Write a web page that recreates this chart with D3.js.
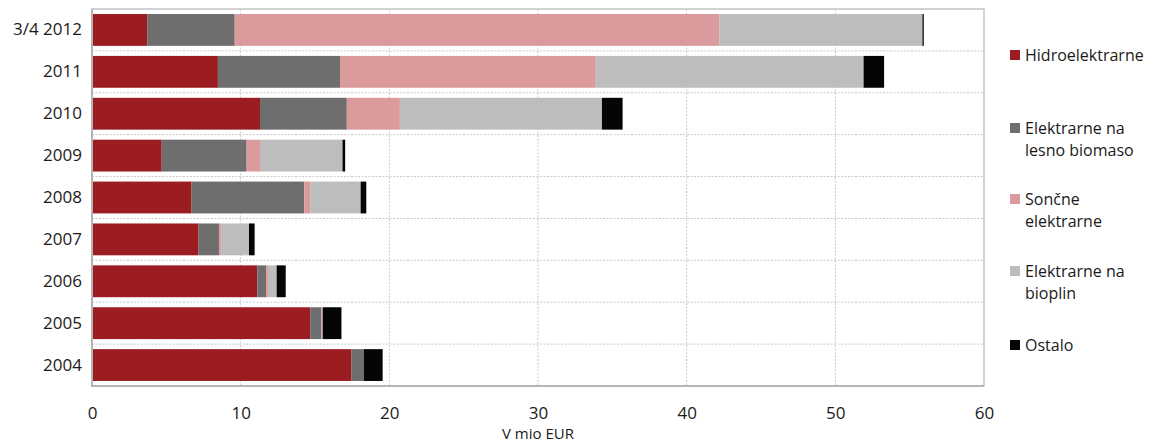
<!DOCTYPE html>
<html>
<head>
<meta charset="utf-8">
<script src="https://cdn.jsdelivr.net/npm/d3@7"></script>
<style>
  html, body { margin: 0; padding: 0; background: #fff; }
  svg { display: block; font-family: "Open Sans", "Noto Sans", sans-serif; }
</style>
</head>
<body>
<svg id="chart" width="1157" height="445"></svg>
<script>
const categories = ["3/4 2012", "2011", "2010", "2009", "2008", "2007", "2006", "2005", "2004"];
const seriesNames = ["Hidroelektrarne", "Elektrarne na lesno biomaso", "Sončne elektrarne", "Elektrarne na bioplin", "Ostalo"];
const legendLines = [["Hidroelektrarne"], ["Elektrarne na", "lesno biomaso"], ["Sončne", "elektrarne"], ["Elektrarne na", "bioplin"], ["Ostalo"]];
const hidro   = [3.71, 8.47, 11.30, 4.69, 6.70, 7.17, 11.12, 14.68, 17.46];
const biomasa = [5.89, 8.21, 5.84, 5.71, 7.58, 1.37, 0.60, 0.74, 0.83];
const soncne  = [32.59, 17.21, 3.57, 0.90, 0.40, 0.13, 0.12, 0.05, 0.00];
const bioplin = [13.67, 18.01, 13.59, 5.55, 3.39, 1.89, 0.58, 0.05, 0.00];
const ostalo  = [0.09, 1.38, 1.39, 0.18, 0.38, 0.38, 0.61, 1.26, 1.26];
const xTicks = [0, 10, 20, 30, 40, 50, 60];
const xTitle = "V mio EUR";
const colors = ["#9b1c21", "#6d6e6d", "#db9a9b", "#bdbdbd", "#050505"];

const seriesValues = [hidro, biomasa, soncne, bioplin, ostalo];
const keys = seriesNames;
const rows = categories.map((c, i) => {
  const r = { cat: c };
  keys.forEach((k, j) => r[k] = seriesValues[j][i]);
  return r;
});

const svg = d3.select("#chart");
const plot = { left: 92, right: 984, top: 9, bottom: 386 };

const x = d3.scaleLinear().domain([0, 60]).range([plot.left, plot.right]);
const y = d3.scaleBand().domain(categories).range([plot.top, plot.bottom])
  .paddingInner(0.24).paddingOuter(0.12);
const color = d3.scaleOrdinal().domain(keys).range(colors);

// frame
svg.append("rect")
  .attr("x", plot.left).attr("y", plot.top)
  .attr("width", plot.right - plot.left).attr("height", plot.bottom - plot.top)
  .attr("fill", "#fff").attr("stroke", "#c4c4c4").attr("stroke-width", 1.5);

// vertical grid
svg.append("g").selectAll("line")
  .data(xTicks.filter(t => t > 0 && t < 60))
  .join("line")
  .attr("x1", d => x(d)).attr("x2", d => x(d))
  .attr("y1", plot.top).attr("y2", plot.bottom)
  .attr("stroke", "#c8c8c8").attr("stroke-width", 1)
  .attr("stroke-dasharray", "2,1.5");

// horizontal grid at band boundaries
const step = y.step();
const boundaries = categories.slice(1).map(c => y(c) - y.paddingInner() * step / 2);
svg.append("g").selectAll("line")
  .data(boundaries)
  .join("line")
  .attr("x1", plot.left).attr("x2", plot.right)
  .attr("y1", d => d).attr("y2", d => d)
  .attr("stroke", "#c8c8c8").attr("stroke-width", 1)
  .attr("stroke-dasharray", "2,1.5");

// bars
const stacked = d3.stack().keys(keys)(rows);
svg.append("g").selectAll("g")
  .data(stacked)
  .join("g")
  .attr("fill", d => color(d.key))
  .selectAll("rect")
  .data(d => d)
  .join("rect")
  .attr("x", d => x(d[0]))
  .attr("width", d => Math.max(0, x(d[1]) - x(d[0])))
  .attr("y", d => y(d.data.cat))
  .attr("height", y.bandwidth());

// left & bottom axis lines
svg.append("line")
  .attr("x1", plot.left).attr("x2", plot.left)
  .attr("y1", plot.top).attr("y2", plot.bottom + 1)
  .attr("stroke", "#b4b4b4").attr("stroke-width", 2);
svg.append("line")
  .attr("x1", plot.left).attr("x2", plot.right)
  .attr("y1", plot.bottom).attr("y2", plot.bottom)
  .attr("stroke", "#b4b4b4").attr("stroke-width", 2);

// x axis labels
const xAxis = d3.axisBottom(x).tickValues(xTicks).tickSize(0).tickPadding(0);
const gx = svg.append("g").attr("transform", `translate(0,${plot.bottom + 33})`).call(xAxis);
gx.select(".domain").remove();
gx.selectAll("text").attr("font-size", 17).attr("fill", "#1a1a1a")
  .attr("font-family", "'Open Sans', sans-serif").attr("dy", "0");

svg.append("text")
  .attr("x", (plot.left + plot.right) / 2).attr("y", 439)
  .attr("text-anchor", "middle").attr("font-size", 15).attr("fill", "#1a1a1a")
  .text(xTitle);

// y axis labels
const yAxis = d3.axisLeft(y).tickSize(0).tickPadding(10);
const gy = svg.append("g").attr("transform", `translate(${plot.left},0)`).call(yAxis);
gy.select(".domain").remove();
gy.selectAll("text").attr("font-size", 17).attr("fill", "#1a1a1a")
  .attr("font-family", "'Open Sans', sans-serif");

// legend
const legendY = [55, 128, 199, 271, 345];
const lg = svg.append("g");
keys.forEach((k, i) => {
  const g = lg.append("g").attr("transform", `translate(1010,${legendY[i]})`);
  g.append("rect").attr("x", 0).attr("y", -5).attr("width", 10).attr("height", 10)
    .attr("fill", color(k));
  g.selectAll("text").data(legendLines[i]).join("text")
    .attr("x", 15).attr("y", (d, j) => j * 22)
    .attr("dy", "0.35em")
    .attr("font-size", 16).attr("fill", "#1a1a1a")
    .text(d => d);
});
</script>
</body>
</html>
